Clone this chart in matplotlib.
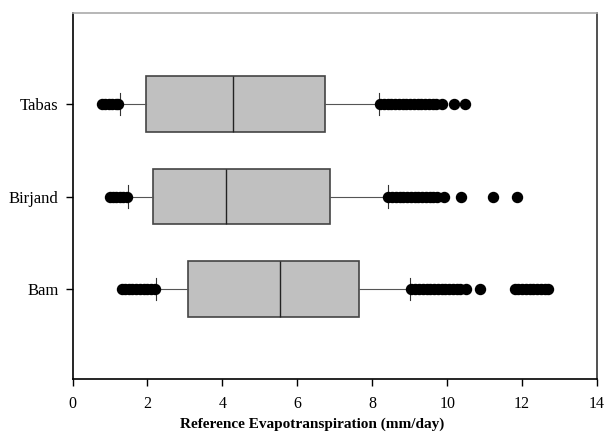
import numpy as np
import matplotlib
matplotlib.use('Agg')
import matplotlib.pyplot as plt

# --------------------------------------------------------------------------------------------------
# summary statistics (mm/day)

stations = ['Bam', 'Birjand', 'Tabas']

q1      = [3.08, 2.14, 1.95]
median  = [5.53, 4.09, 4.29]
q3      = [7.64, 6.88, 6.74]
wlo     = [2.24, 1.48, 1.28]
whi     = [9.01, 8.41, 8.19]

fliers_bam = [1.31, 1.40, 1.50, 1.60, 1.70, 1.80, 1.90, 2.00, 2.10, 2.21,
              9.04, 9.15, 9.25, 9.35, 9.45, 9.55, 9.65, 9.75, 9.85, 9.95,
              10.05, 10.15, 10.25, 10.35, 10.50, 10.88,
              11.81, 11.90, 12.00, 12.10, 12.20, 12.30, 12.40, 12.50, 12.60, 12.69]
fliers_birjand = [0.99, 1.08, 1.17, 1.26, 1.35, 1.45,
                  8.43, 8.53, 8.63, 8.73, 8.83, 8.93, 9.03, 9.13, 9.23, 9.33,
                  9.43, 9.53, 9.63, 9.73, 9.92, 10.38, 11.22, 11.86]
fliers_tabas = [0.79, 0.88, 0.97, 1.06, 1.15, 1.22,
                8.21, 8.31, 8.41, 8.51, 8.61, 8.71, 8.81, 8.91, 9.01, 9.11,
                9.21, 9.31, 9.41, 9.51, 9.61, 9.71, 9.86, 10.19, 10.47]

fliers = [fliers_bam, fliers_birjand, fliers_tabas]

# --------------------------------------------------------------------------------------------------

plt.rcParams['font.family'] = ['Liberation Serif', 'DejaVu Serif']

stats = []
for i in range(len(stations)):
    stats.append(dict(label=stations[i], med=median[i], q1=q1[i], q3=q3[i],
                      whislo=wlo[i], whishi=whi[i], fliers=fliers[i]))

fig = plt.figure(figsize=(6.06, 4.40), dpi=100)
ax = fig.add_axes([72.5/606, 1-379/440, (597-72.5)/606, (379-13)/440])

ax.bxp(stats, positions=[1, 2, 3], vert=False, widths=0.6, capwidths=0.24,
       patch_artist=True, manage_ticks=False,
       boxprops=dict(facecolor='#c0c0c0', edgecolor='#444444', linewidth=1.2),
       medianprops=dict(color='#222222', linewidth=1.0),
       whiskerprops=dict(color='#555555', linewidth=0.8),
       capprops=dict(color='#333333', linewidth=0.8),
       flierprops=dict(marker='o', markerfacecolor='black', markeredgecolor='black',
                       markersize=7.2, linestyle='none'))

ax.set_xlim(0, 14)
ax.set_ylim(0.027, 3.984)
ax.set_xticks(np.arange(0, 15, 2))
ax.set_yticks([1, 2, 3])
ax.set_yticklabels(stations)

ax.spines['top'].set_color('#aaaaaa')
ax.spines['right'].set_color('#333333')
for axis in ['top', 'bottom', 'left', 'right']:
    ax.spines[axis].set_linewidth(1.2)

ax.tick_params(axis='x', direction='out', length=5, width=1, pad=7, labelsize=11.5)
ax.tick_params(axis='y', direction='out', length=5, width=1, pad=5, labelsize=12)

ax.set_xlabel('Reference Evapotranspiration (mm/day)', fontweight='bold', fontsize=11,
              labelpad=5)
ax.xaxis.set_label_coords((312-72.5)/524.5, -0.105)

fig.savefig('out.png', dpi=100)
